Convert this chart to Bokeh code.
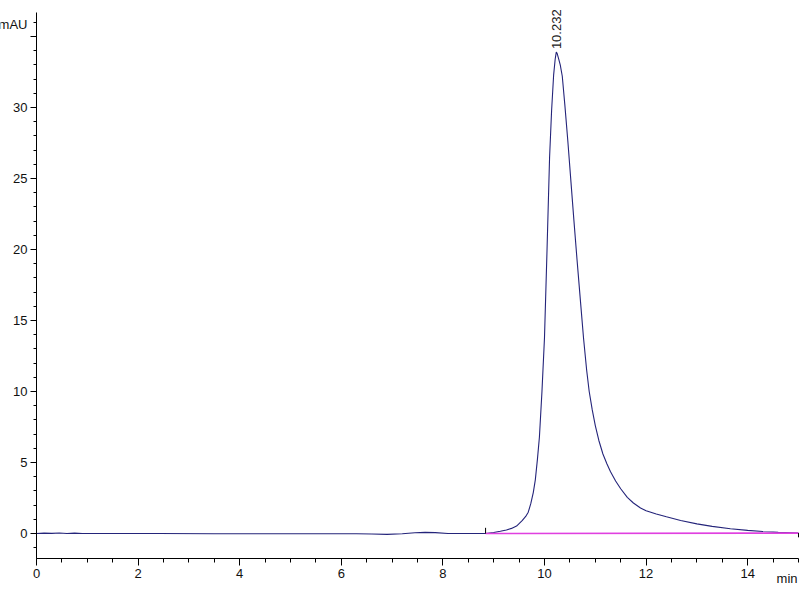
import math
from bokeh.plotting import figure
from bokeh.models import FixedTicker, Range1d
from bokeh.embed import file_html
from bokeh.resources import INLINE

# Chromatogram trace (time in min, signal in mAU)
time = [0.0, 0.15, 0.3, 0.45, 0.6, 0.75, 0.9, 1.5, 2.4, 3.5, 4.5, 5.5, 6.3,
        6.6, 6.9, 7.2, 7.45, 7.65, 7.85, 8.1, 8.5, 8.84, 9.0, 9.13, 9.25,
        9.35, 9.45, 9.56, 9.63, 9.68, 9.73, 9.78, 9.82, 9.86, 9.9, 9.95,
        10.0, 10.05, 10.10, 10.14, 10.18, 10.21, 10.232, 10.25, 10.28, 10.31,
        10.35, 10.40, 10.46, 10.52, 10.58, 10.64, 10.70, 10.77, 10.83, 10.88,
        10.94, 11.0, 11.07, 11.15, 11.23, 11.3, 11.4, 11.5, 11.63, 11.75,
        11.89, 12.0, 12.2, 12.4, 12.68, 13.0, 13.3, 13.66, 14.0, 14.3, 14.6,
        15.0]
signal = [0.0, 0.03, 0.01, 0.04, 0.0, 0.03, 0.0, 0.0, 0.0, -0.02, -0.02,
          -0.02, -0.02, -0.04, -0.06, -0.02, 0.05, 0.08, 0.06, 0.0, 0.0,
          0.0, 0.07, 0.16, 0.25, 0.36, 0.52, 0.9, 1.2, 1.5, 2.1, 2.9, 3.8,
          5.2, 6.8, 10.0, 13.8, 20.0, 26.5, 29.8, 32.3, 33.4, 33.9, 33.8,
          33.4, 33.0, 32.2, 30.2, 27.6, 24.8, 22.0, 19.3, 16.7, 13.7, 11.5,
          10.0, 8.7, 7.6, 6.55, 5.6, 4.9, 4.35, 3.7, 3.15, 2.55, 2.15, 1.8,
          1.6, 1.38, 1.18, 0.92, 0.68, 0.5, 0.34, 0.22, 0.14, 0.08, 0.03]

# Integration baseline (start, end)
base_time = [8.84, 15.0]
base_signal = [0.0, 0.03]

peak_rt = 10.232
peak_label = "10.232"

x_ticks = [0, 2, 4, 6, 8, 10, 12, 14]
y_ticks = [0, 5, 10, 15, 20, 25, 30, 35]
x_axis_range = (0, 15)
y_axis_range = (-1.76, 36.69)
y_unit = "mAU"
x_unit = "min"

FONT = "Liberation Sans"

# Frame covers the whole canvas; axes are pinned inside it with fixed_location
p = figure(width=800, height=600, output_backend="svg", toolbar_location=None,
           x_range=Range1d(-0.7087, 15.0394), y_range=Range1d(-4.718, 37.535),
           min_border_left=0, min_border_right=0, min_border_top=0,
           min_border_bottom=0)
p.outline_line_color = None
p.xgrid.visible = False
p.ygrid.visible = False
p.background_fill_color = "white"
p.border_fill_color = "white"

p.line(time, signal, line_color="#24247a", line_width=1.1)
p.line(base_time, base_signal, line_color="#e040e0", line_width=1.6)

# integration start (up) / end (down) markers
p.segment(x0=[base_time[0]], y0=[base_signal[0]], x1=[base_time[0]],
          y1=[base_signal[0] + 0.4], line_color="#000000", line_width=1)
p.segment(x0=[base_time[1]], y0=[base_signal[1]], x1=[base_time[1]],
          y1=[base_signal[1] - 0.3], line_color="#000000", line_width=1)

# peak retention time label
pk_idx = time.index(peak_rt)
p.text(x=[peak_rt], y=[signal[pk_idx]], text=[peak_label], angle=math.pi / 2,
       text_align="left", text_baseline="middle", y_offset=-3,
       text_font_size="13px", text_color="#222222",
       text_font={"value": FONT})

for ax in (p.xaxis[0], p.yaxis[0]):
    ax.axis_line_color = "black"
    ax.major_tick_line_color = "black"
    ax.minor_tick_line_color = "black"
    ax.major_tick_in = 0
    ax.minor_tick_in = 0
    ax.major_label_text_font = FONT
    ax.major_label_text_font_size = "13px"
    ax.major_label_text_color = "#111111"

p.xaxis.fixed_location = y_axis_range[0]
p.xaxis.bounds = x_axis_range
p.xaxis.ticker = FixedTicker(ticks=x_ticks, minor_ticks=[i * 0.5 for i in range(31)])
p.xaxis.major_tick_out = 7
p.xaxis.minor_tick_out = 4
p.xaxis.major_label_standoff = 4

p.yaxis.fixed_location = x_axis_range[0]
p.yaxis.bounds = y_axis_range
p.yaxis.ticker = FixedTicker(ticks=y_ticks, minor_ticks=list(range(-1, 37)))
p.yaxis.major_tick_out = 6
p.yaxis.minor_tick_out = 3
p.yaxis.major_label_standoff = 3
p.yaxis.major_label_overrides = {35: ""}

# unit labels
p.text(x=[x_axis_range[0]], y=[y_ticks[-1]], text=[y_unit], x_offset=-9, y_offset=-12,
       text_align="right", text_baseline="middle", text_font={"value": FONT},
       text_font_size="13px", text_color="#111111")
p.text(x=[x_axis_range[1]], y=[y_axis_range[0]], text=[x_unit], x_offset=-1, y_offset=20,
       text_align="right", text_baseline="middle", text_font={"value": FONT},
       text_font_size="13px", text_color="#111111")

open("out.html", "w").write(file_html(p, INLINE))
